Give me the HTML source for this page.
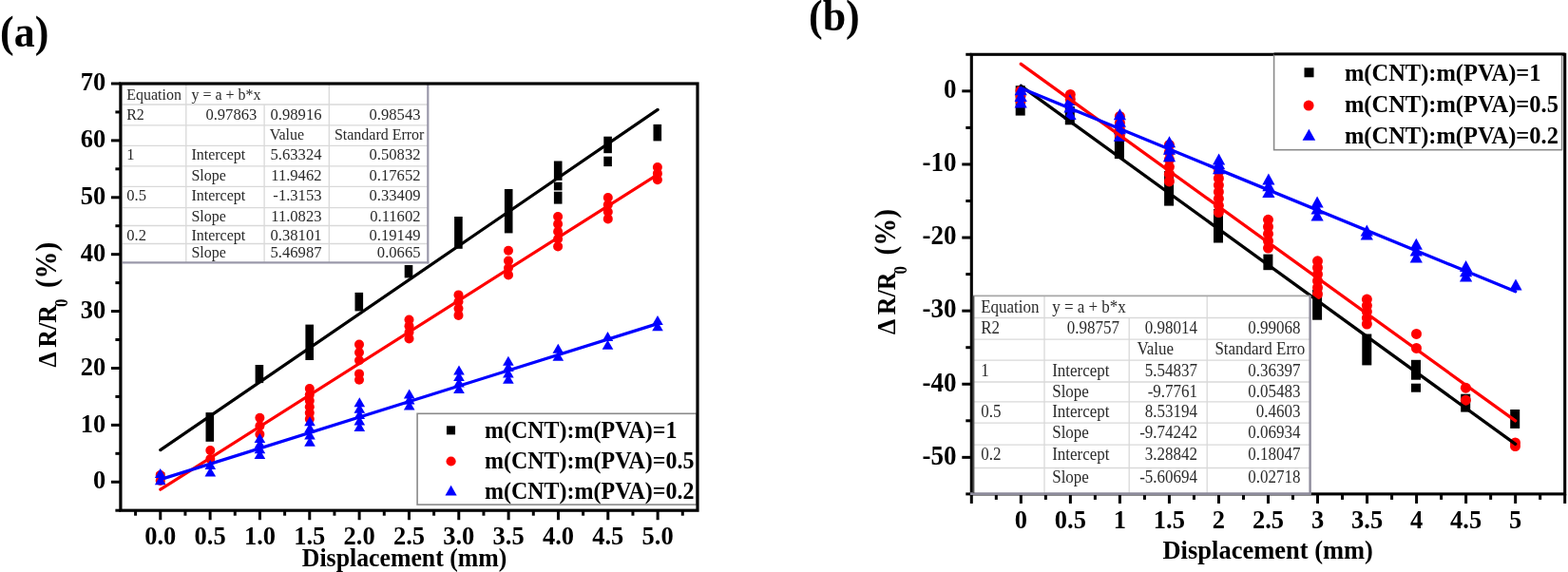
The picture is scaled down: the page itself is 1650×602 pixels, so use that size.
<!DOCTYPE html>
<html><head><meta charset="utf-8"><title>Figure</title>
<style>
html,body{margin:0;padding:0;background:#fff;}
body{width:1650px;height:602px;overflow:hidden;}
svg{display:block;filter:blur(0.3px);}
svg text{font-family:'Liberation Serif', 'Times New Roman', serif;}
</style></head><body>
<svg width="1650" height="602" viewBox="0 0 1650 602">
<rect width="1650" height="602" fill="#fff"/>
<rect x="164.7" y="497" width="8.6" height="13" fill="#000"/>
<rect x="216.5" y="434.1" width="8.6" height="30.7" fill="#000"/>
<rect x="268.6" y="384" width="8.6" height="19.1" fill="#000"/>
<rect x="321.4" y="341.6" width="8.6" height="37.4" fill="#000"/>
<rect x="373.5" y="307.9" width="8.6" height="19.5" fill="#000"/>
<rect x="425.7" y="279" width="8.6" height="13.4" fill="#000"/>
<rect x="478.1" y="228" width="8.6" height="33.8" fill="#000"/>
<rect x="530.9" y="199" width="8.6" height="46.4" fill="#000"/>
<rect x="582.9" y="169.5" width="8.6" height="20.4" fill="#000"/>
<rect x="582.9" y="191.7" width="8.6" height="8.7" fill="#000"/>
<rect x="582.9" y="201.7" width="8.6" height="12.9" fill="#000"/>
<rect x="635.3" y="143.7" width="8.6" height="17.5" fill="#000"/>
<rect x="635.3" y="164.7" width="8.6" height="10.4" fill="#000"/>
<rect x="687.5" y="130.9" width="8.6" height="17.5" fill="#000"/>
<circle cx="168.7" cy="500" r="5" fill="#f00"/>
<circle cx="168.7" cy="506" r="5" fill="#f00"/>
<circle cx="221.3" cy="474" r="5" fill="#f00"/>
<circle cx="221.3" cy="483" r="5" fill="#f00"/>
<circle cx="273.4" cy="439.7" r="5" fill="#f00"/>
<circle cx="273.4" cy="448.35" r="5" fill="#f00"/>
<circle cx="273.4" cy="457" r="5" fill="#f00"/>
<circle cx="325.8" cy="409.1" r="5" fill="#f00"/>
<circle cx="325.8" cy="415.48" r="5" fill="#f00"/>
<circle cx="325.8" cy="421.86" r="5" fill="#f00"/>
<circle cx="325.8" cy="428.24" r="5" fill="#f00"/>
<circle cx="325.8" cy="434.62" r="5" fill="#f00"/>
<circle cx="325.8" cy="441" r="5" fill="#f00"/>
<circle cx="378" cy="362.6" r="5" fill="#f00"/>
<circle cx="378" cy="370.95" r="5" fill="#f00"/>
<circle cx="378" cy="379.3" r="5" fill="#f00"/>
<circle cx="378" cy="393.4" r="5" fill="#f00"/>
<circle cx="378" cy="399.7" r="5" fill="#f00"/>
<circle cx="430.5" cy="336.5" r="5" fill="#f00"/>
<circle cx="430.5" cy="343.13" r="5" fill="#f00"/>
<circle cx="430.5" cy="349.77" r="5" fill="#f00"/>
<circle cx="430.5" cy="356.4" r="5" fill="#f00"/>
<circle cx="482.5" cy="310.4" r="5" fill="#f00"/>
<circle cx="482.5" cy="317.57" r="5" fill="#f00"/>
<circle cx="482.5" cy="324.73" r="5" fill="#f00"/>
<circle cx="482.5" cy="331.9" r="5" fill="#f00"/>
<circle cx="535" cy="263.7" r="5" fill="#f00"/>
<circle cx="535" cy="274.5" r="5" fill="#f00"/>
<circle cx="535" cy="281.95" r="5" fill="#f00"/>
<circle cx="535" cy="289.4" r="5" fill="#f00"/>
<circle cx="587.1" cy="228" r="5" fill="#f00"/>
<circle cx="587.1" cy="235.85" r="5" fill="#f00"/>
<circle cx="587.1" cy="243.7" r="5" fill="#f00"/>
<circle cx="587.1" cy="251.55" r="5" fill="#f00"/>
<circle cx="587.1" cy="259.4" r="5" fill="#f00"/>
<circle cx="639.8" cy="208" r="5" fill="#f00"/>
<circle cx="639.8" cy="215.47" r="5" fill="#f00"/>
<circle cx="639.8" cy="222.93" r="5" fill="#f00"/>
<circle cx="639.8" cy="230.4" r="5" fill="#f00"/>
<circle cx="691.9" cy="176" r="5" fill="#f00"/>
<circle cx="691.9" cy="182.65" r="5" fill="#f00"/>
<circle cx="691.9" cy="189.3" r="5" fill="#f00"/>
<polygon points="168.7,492.9 174.5,502.9 162.9,502.9" fill="#00f"/>
<polygon points="168.7,500.3 174.5,510.3 162.9,510.3" fill="#00f"/>
<polygon points="221.3,484 227.1,494 215.5,494" fill="#00f"/>
<polygon points="221.3,491.4 227.1,501.4 215.5,501.4" fill="#00f"/>
<polygon points="273.4,456 279.2,466 267.6,466" fill="#00f"/>
<polygon points="273.4,461.67 279.2,471.67 267.6,471.67" fill="#00f"/>
<polygon points="273.4,467.33 279.2,477.33 267.6,477.33" fill="#00f"/>
<polygon points="273.4,473 279.2,483 267.6,483" fill="#00f"/>
<polygon points="326,438.2 331.8,448.2 320.2,448.2" fill="#00f"/>
<polygon points="326,445.37 331.8,455.37 320.2,455.37" fill="#00f"/>
<polygon points="326,452.53 331.8,462.53 320.2,462.53" fill="#00f"/>
<polygon points="326,459.7 331.8,469.7 320.2,469.7" fill="#00f"/>
<polygon points="378.3,418.2 384.1,428.2 372.5,428.2" fill="#00f"/>
<polygon points="378.3,424.65 384.1,434.65 372.5,434.65" fill="#00f"/>
<polygon points="378.3,431.1 384.1,441.1 372.5,441.1" fill="#00f"/>
<polygon points="378.3,437.55 384.1,447.55 372.5,447.55" fill="#00f"/>
<polygon points="378.3,444 384.1,454 372.5,454" fill="#00f"/>
<polygon points="430.7,409.4 436.5,419.4 424.9,419.4" fill="#00f"/>
<polygon points="430.7,415.4 436.5,425.4 424.9,425.4" fill="#00f"/>
<polygon points="430.7,421.4 436.5,431.4 424.9,431.4" fill="#00f"/>
<polygon points="483,384.5 488.8,394.5 477.2,394.5" fill="#00f"/>
<polygon points="483,391 488.8,401 477.2,401" fill="#00f"/>
<polygon points="483,397.5 488.8,407.5 477.2,407.5" fill="#00f"/>
<polygon points="483,404 488.8,414 477.2,414" fill="#00f"/>
<polygon points="534.9,374.8 540.7,384.8 529.1,384.8" fill="#00f"/>
<polygon points="534.9,381.1 540.7,391.1 529.1,391.1" fill="#00f"/>
<polygon points="534.9,387.4 540.7,397.4 529.1,397.4" fill="#00f"/>
<polygon points="534.9,393.7 540.7,403.7 529.1,403.7" fill="#00f"/>
<polygon points="587.3,361.8 593.1,371.8 581.5,371.8" fill="#00f"/>
<polygon points="587.3,369.8 593.1,379.8 581.5,379.8" fill="#00f"/>
<polygon points="639.5,348.9 645.3,358.9 633.7,358.9" fill="#00f"/>
<polygon points="639.5,357.8 645.3,367.8 633.7,367.8" fill="#00f"/>
<polygon points="692,332 697.8,342 686.2,342" fill="#00f"/>
<polygon points="692,338.3 697.8,348.3 686.2,348.3" fill="#00f"/>
<line x1="168.77" y1="473.6" x2="692.13" y2="115.4" stroke="#000" stroke-width="3.2" stroke-linecap="round"/>
<line x1="168.77" y1="515.2" x2="692.13" y2="183.6" stroke="#f00" stroke-width="3.2" stroke-linecap="round"/>
<line x1="168.77" y1="504.6" x2="692.13" y2="340.6" stroke="#00f" stroke-width="3.2" stroke-linecap="round"/>
<rect x="128.8" y="88" width="321.5" height="188.3" fill="#fff"/>
<line x1="128.8" y1="110" x2="450.3" y2="110" stroke="#d9d9d9" stroke-width="1.3"/>
<line x1="128.8" y1="131.9" x2="450.3" y2="131.9" stroke="#d9d9d9" stroke-width="1.3"/>
<line x1="128.8" y1="153.3" x2="450.3" y2="153.3" stroke="#d9d9d9" stroke-width="1.3"/>
<line x1="128.8" y1="174.9" x2="450.3" y2="174.9" stroke="#d9d9d9" stroke-width="1.3"/>
<line x1="128.8" y1="196.4" x2="450.3" y2="196.4" stroke="#d9d9d9" stroke-width="1.3"/>
<line x1="128.8" y1="218.6" x2="450.3" y2="218.6" stroke="#d9d9d9" stroke-width="1.3"/>
<line x1="128.8" y1="237.5" x2="450.3" y2="237.5" stroke="#d9d9d9" stroke-width="1.3"/>
<line x1="128.8" y1="256.5" x2="450.3" y2="256.5" stroke="#d9d9d9" stroke-width="1.3"/>
<line x1="195.8" y1="88" x2="195.8" y2="276.3" stroke="#d9d9d9" stroke-width="1.3"/>
<line x1="278.1" y1="110.1" x2="278.1" y2="276.3" stroke="#d9d9d9" stroke-width="1.3"/>
<line x1="346.3" y1="88" x2="346.3" y2="276.3" stroke="#d9d9d9" stroke-width="1.3"/>
<line x1="450.3" y1="88" x2="450.3" y2="277.4" stroke="#9a98aa" stroke-width="2.2"/>
<line x1="128.8" y1="276.3" x2="451.4" y2="276.3" stroke="#9a98aa" stroke-width="2.2"/>
<g font-size="16" fill="#2a2a2a">
<text transform="translate(133.2,104.8) scale(1,1.06)">Equation</text>
<text transform="translate(201.4,104.8) scale(1,1.06)">y = a + b*x</text>
<text transform="translate(133.2,125.5) scale(1,1.06)">R2</text>
<text transform="translate(270.3,125.5) scale(1,1.06)" text-anchor="end" font-size="16.6">0.97863</text>
<text transform="translate(338.5,125.5) scale(1,1.06)" text-anchor="end" font-size="16.6">0.98916</text>
<text transform="translate(442.5,125.5) scale(1,1.06)" text-anchor="end" font-size="16.6">0.98543</text>
<text transform="translate(283.7,146.6) scale(1,1.06)">Value</text>
<text transform="translate(351.9,146.6) scale(1,1.06)">Standard Error</text>
<text transform="translate(133.2,168.4) scale(1,1.06)" font-size="16.6">1</text>
<text transform="translate(201.4,168.4) scale(1,1.06)">Intercept</text>
<text transform="translate(338.5,168.4) scale(1,1.06)" text-anchor="end" font-size="16.6">5.63324</text>
<text transform="translate(442.5,168.4) scale(1,1.06)" text-anchor="end" font-size="16.6">0.50832</text>
<text transform="translate(201.4,190) scale(1,1.06)">Slope</text>
<text transform="translate(338.5,190) scale(1,1.06)" text-anchor="end" font-size="16.6">11.9462</text>
<text transform="translate(442.5,190) scale(1,1.06)" text-anchor="end" font-size="16.6">0.17652</text>
<text transform="translate(133.2,210.5) scale(1,1.06)" font-size="16.6">0.5</text>
<text transform="translate(201.4,210.5) scale(1,1.06)">Intercept</text>
<text transform="translate(338.5,210.5) scale(1,1.06)" text-anchor="end" font-size="16.6">-1.3153</text>
<text transform="translate(442.5,210.5) scale(1,1.06)" text-anchor="end" font-size="16.6">0.33409</text>
<text transform="translate(201.4,233.2) scale(1,1.06)">Slope</text>
<text transform="translate(338.5,233.2) scale(1,1.06)" text-anchor="end" font-size="16.6">11.0823</text>
<text transform="translate(442.5,233.2) scale(1,1.06)" text-anchor="end" font-size="16.6">0.11602</text>
<text transform="translate(133.2,252.6) scale(1,1.06)" font-size="16.6">0.2</text>
<text transform="translate(201.4,252.6) scale(1,1.06)">Intercept</text>
<text transform="translate(338.5,252.6) scale(1,1.06)" text-anchor="end" font-size="16.6">0.38101</text>
<text transform="translate(442.5,252.6) scale(1,1.06)" text-anchor="end" font-size="16.6">0.19149</text>
<text transform="translate(201.4,271) scale(1,1.06)">Slope</text>
<text transform="translate(338.5,271) scale(1,1.06)" text-anchor="end" font-size="16.6">5.46987</text>
<text transform="translate(442.5,271) scale(1,1.06)" text-anchor="end" font-size="16.6">0.0665</text>
</g>
<rect x="439.1" y="435.3" width="294" height="95.8" fill="#fff" stroke="#8a8a8a" stroke-width="1.6"/>
<rect x="469.95" y="448.3" width="9.1" height="9.1" fill="#000"/>
<circle cx="474.6" cy="485.5" r="5.1" fill="#f00"/>
<polygon points="474.6,510.8 480.7,521.6 468.5,521.6" fill="#00f"/>
<text transform="translate(510,461.4) scale(1,1.06)" font-size="24" font-weight="bold">m(CNT):m(PVA)=1</text>
<text transform="translate(510,493.3) scale(1,1.06)" font-size="24" font-weight="bold">m(CNT):m(PVA)=0.5</text>
<text transform="translate(510,525.2) scale(1,1.06)" font-size="24" font-weight="bold">m(CNT):m(PVA)=0.2</text>
<rect x="126.9" y="88" width="607.1" height="449.2" fill="none" stroke="#000" stroke-width="3.2"/>
<line x1="121.4" y1="537.2" x2="126.9" y2="537.2" stroke="#000" stroke-width="3"/>
<line x1="116.9" y1="507.25" x2="126.9" y2="507.25" stroke="#000" stroke-width="3"/>
<text transform="translate(111.2,514.45) scale(1,1.06)" font-size="26.5" font-weight="bold" text-anchor="end">0</text>
<line x1="121.4" y1="477.31" x2="126.9" y2="477.31" stroke="#000" stroke-width="3"/>
<line x1="116.9" y1="447.36" x2="126.9" y2="447.36" stroke="#000" stroke-width="3"/>
<text transform="translate(111.2,454.56) scale(1,1.06)" font-size="26.5" font-weight="bold" text-anchor="end">10</text>
<line x1="121.4" y1="417.41" x2="126.9" y2="417.41" stroke="#000" stroke-width="3"/>
<line x1="116.9" y1="387.47" x2="126.9" y2="387.47" stroke="#000" stroke-width="3"/>
<text transform="translate(111.2,394.67) scale(1,1.06)" font-size="26.5" font-weight="bold" text-anchor="end">20</text>
<line x1="121.4" y1="357.52" x2="126.9" y2="357.52" stroke="#000" stroke-width="3"/>
<line x1="116.9" y1="327.57" x2="126.9" y2="327.57" stroke="#000" stroke-width="3"/>
<text transform="translate(111.2,334.77) scale(1,1.06)" font-size="26.5" font-weight="bold" text-anchor="end">30</text>
<line x1="121.4" y1="297.63" x2="126.9" y2="297.63" stroke="#000" stroke-width="3"/>
<line x1="116.9" y1="267.68" x2="126.9" y2="267.68" stroke="#000" stroke-width="3"/>
<text transform="translate(111.2,274.88) scale(1,1.06)" font-size="26.5" font-weight="bold" text-anchor="end">40</text>
<line x1="121.4" y1="237.73" x2="126.9" y2="237.73" stroke="#000" stroke-width="3"/>
<line x1="116.9" y1="207.79" x2="126.9" y2="207.79" stroke="#000" stroke-width="3"/>
<text transform="translate(111.2,214.99) scale(1,1.06)" font-size="26.5" font-weight="bold" text-anchor="end">50</text>
<line x1="121.4" y1="177.84" x2="126.9" y2="177.84" stroke="#000" stroke-width="3"/>
<line x1="116.9" y1="147.89" x2="126.9" y2="147.89" stroke="#000" stroke-width="3"/>
<text transform="translate(111.2,155.09) scale(1,1.06)" font-size="26.5" font-weight="bold" text-anchor="end">60</text>
<line x1="121.4" y1="117.95" x2="126.9" y2="117.95" stroke="#000" stroke-width="3"/>
<line x1="116.9" y1="88" x2="126.9" y2="88" stroke="#000" stroke-width="3"/>
<text transform="translate(111.2,95.2) scale(1,1.06)" font-size="26.5" font-weight="bold" text-anchor="end">70</text>
<line x1="142.6" y1="537.2" x2="142.6" y2="542.7" stroke="#000" stroke-width="3"/>
<line x1="168.77" y1="537.2" x2="168.77" y2="547.2" stroke="#000" stroke-width="3"/>
<text transform="translate(168.77,572.5) scale(1,1.06)" font-size="26.5" font-weight="bold" text-anchor="middle">0.0</text>
<line x1="194.94" y1="537.2" x2="194.94" y2="542.7" stroke="#000" stroke-width="3"/>
<line x1="221.11" y1="537.2" x2="221.11" y2="547.2" stroke="#000" stroke-width="3"/>
<text transform="translate(221.11,572.5) scale(1,1.06)" font-size="26.5" font-weight="bold" text-anchor="middle">0.5</text>
<line x1="247.27" y1="537.2" x2="247.27" y2="542.7" stroke="#000" stroke-width="3"/>
<line x1="273.44" y1="537.2" x2="273.44" y2="547.2" stroke="#000" stroke-width="3"/>
<text transform="translate(273.44,572.5) scale(1,1.06)" font-size="26.5" font-weight="bold" text-anchor="middle">1.0</text>
<line x1="299.61" y1="537.2" x2="299.61" y2="542.7" stroke="#000" stroke-width="3"/>
<line x1="325.78" y1="537.2" x2="325.78" y2="547.2" stroke="#000" stroke-width="3"/>
<text transform="translate(325.78,572.5) scale(1,1.06)" font-size="26.5" font-weight="bold" text-anchor="middle">1.5</text>
<line x1="351.95" y1="537.2" x2="351.95" y2="542.7" stroke="#000" stroke-width="3"/>
<line x1="378.11" y1="537.2" x2="378.11" y2="547.2" stroke="#000" stroke-width="3"/>
<text transform="translate(378.11,572.5) scale(1,1.06)" font-size="26.5" font-weight="bold" text-anchor="middle">2.0</text>
<line x1="404.28" y1="537.2" x2="404.28" y2="542.7" stroke="#000" stroke-width="3"/>
<line x1="430.45" y1="537.2" x2="430.45" y2="547.2" stroke="#000" stroke-width="3"/>
<text transform="translate(430.45,572.5) scale(1,1.06)" font-size="26.5" font-weight="bold" text-anchor="middle">2.5</text>
<line x1="456.62" y1="537.2" x2="456.62" y2="542.7" stroke="#000" stroke-width="3"/>
<line x1="482.79" y1="537.2" x2="482.79" y2="547.2" stroke="#000" stroke-width="3"/>
<text transform="translate(482.79,572.5) scale(1,1.06)" font-size="26.5" font-weight="bold" text-anchor="middle">3.0</text>
<line x1="508.95" y1="537.2" x2="508.95" y2="542.7" stroke="#000" stroke-width="3"/>
<line x1="535.12" y1="537.2" x2="535.12" y2="547.2" stroke="#000" stroke-width="3"/>
<text transform="translate(535.12,572.5) scale(1,1.06)" font-size="26.5" font-weight="bold" text-anchor="middle">3.5</text>
<line x1="561.29" y1="537.2" x2="561.29" y2="542.7" stroke="#000" stroke-width="3"/>
<line x1="587.46" y1="537.2" x2="587.46" y2="547.2" stroke="#000" stroke-width="3"/>
<text transform="translate(587.46,572.5) scale(1,1.06)" font-size="26.5" font-weight="bold" text-anchor="middle">4.0</text>
<line x1="613.63" y1="537.2" x2="613.63" y2="542.7" stroke="#000" stroke-width="3"/>
<line x1="639.79" y1="537.2" x2="639.79" y2="547.2" stroke="#000" stroke-width="3"/>
<text transform="translate(639.79,572.5) scale(1,1.06)" font-size="26.5" font-weight="bold" text-anchor="middle">4.5</text>
<line x1="665.96" y1="537.2" x2="665.96" y2="542.7" stroke="#000" stroke-width="3"/>
<line x1="692.13" y1="537.2" x2="692.13" y2="547.2" stroke="#000" stroke-width="3"/>
<text transform="translate(692.13,572.5) scale(1,1.06)" font-size="26.5" font-weight="bold" text-anchor="middle">5.0</text>
<line x1="718.3" y1="537.2" x2="718.3" y2="542.7" stroke="#000" stroke-width="3"/>
<text transform="translate(425.6,595.8) scale(1,1.06)" font-size="25.8" font-weight="bold" text-anchor="middle">Displacement (mm)</text>
<text transform="translate(59.1,386.6) rotate(-90) scale(1,1.06)" font-size="26" font-weight="bold">&#916;<tspan dx="4.5">R/R</tspan><tspan font-size="17" dy="11" dx="-2">0</tspan><tspan font-size="29" dy="-11" dx="11.5">(%)</tspan></text>
<text transform="translate(0,49) scale(1,1.06)" font-size="44" font-weight="bold">(a)</text>
<rect x="1068.7" y="90.2" width="10" height="31.4" fill="#000"/>
<rect x="1120.8" y="112" width="10" height="19.3" fill="#000"/>
<rect x="1172.9" y="140" width="10" height="27.1" fill="#000"/>
<rect x="1225.1" y="180" width="10" height="36.6" fill="#000"/>
<rect x="1277" y="220" width="10" height="35.5" fill="#000"/>
<rect x="1329.4" y="267.6" width="10" height="16.6" fill="#000"/>
<rect x="1381.1" y="305" width="10" height="31.7" fill="#000"/>
<rect x="1433.3" y="351.5" width="10" height="32.9" fill="#000"/>
<rect x="1485" y="378.8" width="10" height="20.9" fill="#000"/>
<rect x="1485" y="403.7" width="10" height="9" fill="#000"/>
<rect x="1537.2" y="414.7" width="10" height="18.9" fill="#000"/>
<rect x="1589.2" y="431" width="10" height="19.9" fill="#000"/>
<circle cx="1074" cy="95.5" r="5.5" fill="#f00"/>
<circle cx="1074" cy="101" r="5.5" fill="#f00"/>
<circle cx="1074" cy="106.5" r="5.5" fill="#f00"/>
<circle cx="1126.3" cy="99.5" r="5.5" fill="#f00"/>
<circle cx="1126.3" cy="104.5" r="5.5" fill="#f00"/>
<circle cx="1178.4" cy="122.4" r="5.5" fill="#f00"/>
<circle cx="1178.4" cy="129.17" r="5.5" fill="#f00"/>
<circle cx="1178.4" cy="135.93" r="5.5" fill="#f00"/>
<circle cx="1178.4" cy="142.7" r="5.5" fill="#f00"/>
<circle cx="1230.4" cy="152.5" r="5.5" fill="#f00"/>
<circle cx="1230.4" cy="160.18" r="5.5" fill="#f00"/>
<circle cx="1230.4" cy="167.86" r="5.5" fill="#f00"/>
<circle cx="1230.4" cy="175.54" r="5.5" fill="#f00"/>
<circle cx="1230.4" cy="183.22" r="5.5" fill="#f00"/>
<circle cx="1230.4" cy="190.9" r="5.5" fill="#f00"/>
<circle cx="1282.4" cy="180.5" r="5.5" fill="#f00"/>
<circle cx="1282.4" cy="187.67" r="5.5" fill="#f00"/>
<circle cx="1282.4" cy="194.83" r="5.5" fill="#f00"/>
<circle cx="1282.4" cy="202" r="5.5" fill="#f00"/>
<circle cx="1282.4" cy="209.17" r="5.5" fill="#f00"/>
<circle cx="1282.4" cy="216.33" r="5.5" fill="#f00"/>
<circle cx="1282.4" cy="223.5" r="5.5" fill="#f00"/>
<circle cx="1334.5" cy="231.3" r="5.5" fill="#f00"/>
<circle cx="1334.5" cy="238.75" r="5.5" fill="#f00"/>
<circle cx="1334.5" cy="246.2" r="5.5" fill="#f00"/>
<circle cx="1334.5" cy="253.65" r="5.5" fill="#f00"/>
<circle cx="1334.5" cy="261.1" r="5.5" fill="#f00"/>
<circle cx="1386.5" cy="274.8" r="5.5" fill="#f00"/>
<circle cx="1386.5" cy="281.76" r="5.5" fill="#f00"/>
<circle cx="1386.5" cy="288.72" r="5.5" fill="#f00"/>
<circle cx="1386.5" cy="295.68" r="5.5" fill="#f00"/>
<circle cx="1386.5" cy="302.64" r="5.5" fill="#f00"/>
<circle cx="1386.5" cy="309.6" r="5.5" fill="#f00"/>
<circle cx="1438.4" cy="315.1" r="5.5" fill="#f00"/>
<circle cx="1438.4" cy="321.58" r="5.5" fill="#f00"/>
<circle cx="1438.4" cy="328.05" r="5.5" fill="#f00"/>
<circle cx="1438.4" cy="334.52" r="5.5" fill="#f00"/>
<circle cx="1438.4" cy="341" r="5.5" fill="#f00"/>
<circle cx="1490.5" cy="351.4" r="5.5" fill="#f00"/>
<circle cx="1490.5" cy="366.4" r="5.5" fill="#f00"/>
<circle cx="1542.4" cy="408.2" r="5.5" fill="#f00"/>
<circle cx="1542.4" cy="421.2" r="5.5" fill="#f00"/>
<circle cx="1594.5" cy="466" r="5.5" fill="#f00"/>
<circle cx="1594.5" cy="469.6" r="5.5" fill="#f00"/>
<polygon points="1074.2,88.3 1080.8,100.3 1067.6,100.3" fill="#00f"/>
<polygon points="1074.2,94.9 1080.8,106.9 1067.6,106.9" fill="#00f"/>
<polygon points="1074.2,101.5 1080.8,113.5 1067.6,113.5" fill="#00f"/>
<polygon points="1126,98.9 1132.6,110.9 1119.4,110.9" fill="#00f"/>
<polygon points="1126,106.4 1132.6,118.4 1119.4,118.4" fill="#00f"/>
<polygon points="1126,113.9 1132.6,125.9 1119.4,125.9" fill="#00f"/>
<polygon points="1178.4,114.2 1185,126.2 1171.8,126.2" fill="#00f"/>
<polygon points="1178.4,121.7 1185,133.7 1171.8,133.7" fill="#00f"/>
<polygon points="1178.4,129.2 1185,141.2 1171.8,141.2" fill="#00f"/>
<polygon points="1178.4,136.7 1185,148.7 1171.8,148.7" fill="#00f"/>
<polygon points="1230.5,143.2 1237.1,155.2 1223.9,155.2" fill="#00f"/>
<polygon points="1230.5,150.7 1237.1,162.7 1223.9,162.7" fill="#00f"/>
<polygon points="1230.5,158.2 1237.1,170.2 1223.9,170.2" fill="#00f"/>
<polygon points="1282.6,161.4 1289.2,173.4 1276,173.4" fill="#00f"/>
<polygon points="1282.6,166.35 1289.2,178.35 1276,178.35" fill="#00f"/>
<polygon points="1282.6,171.3 1289.2,183.3 1276,183.3" fill="#00f"/>
<polygon points="1334.9,182.6 1341.5,194.6 1328.3,194.6" fill="#00f"/>
<polygon points="1334.9,189.25 1341.5,201.25 1328.3,201.25" fill="#00f"/>
<polygon points="1334.9,195.9 1341.5,207.9 1328.3,207.9" fill="#00f"/>
<polygon points="1386.1,206.5 1392.7,218.5 1379.5,218.5" fill="#00f"/>
<polygon points="1386.1,213.55 1392.7,225.55 1379.5,225.55" fill="#00f"/>
<polygon points="1386.1,220.6 1392.7,232.6 1379.5,232.6" fill="#00f"/>
<polygon points="1438.3,236.6 1444.9,248.6 1431.7,248.6" fill="#00f"/>
<polygon points="1438.3,240.4 1444.9,252.4 1431.7,252.4" fill="#00f"/>
<polygon points="1490.3,250.7 1496.9,262.7 1483.7,262.7" fill="#00f"/>
<polygon points="1490.3,257.6 1496.9,269.6 1483.7,269.6" fill="#00f"/>
<polygon points="1490.3,264.5 1496.9,276.5 1483.7,276.5" fill="#00f"/>
<polygon points="1542.6,274 1549.2,286 1536,286" fill="#00f"/>
<polygon points="1542.6,279.2 1549.2,291.2 1536,291.2" fill="#00f"/>
<polygon points="1542.6,284.4 1549.2,296.4 1536,296.4" fill="#00f"/>
<polygon points="1595,293.6 1601.6,305.6 1588.4,305.6" fill="#00f"/>
<line x1="1074.33" y1="90.3" x2="1594.67" y2="467.4" stroke="#000" stroke-width="3.3" stroke-linecap="round"/>
<line x1="1074.33" y1="67.3" x2="1594.67" y2="442.9" stroke="#f00" stroke-width="3.3" stroke-linecap="round"/>
<line x1="1074.33" y1="92.8" x2="1594.67" y2="306.8" stroke="#00f" stroke-width="3.3" stroke-linecap="round"/>
<rect x="1022.3" y="57.3" width="624.4" height="462.6" fill="none" stroke="#000" stroke-width="3.1"/>
<line x1="1016.3" y1="519.9" x2="1022.3" y2="519.9" stroke="#000" stroke-width="3"/>
<line x1="1012.3" y1="481.35" x2="1022.3" y2="481.35" stroke="#000" stroke-width="3"/>
<text transform="translate(1006.6,488.65) scale(1,1.06)" font-size="27" font-weight="bold" text-anchor="end">-50</text>
<line x1="1016.3" y1="442.8" x2="1022.3" y2="442.8" stroke="#000" stroke-width="3"/>
<line x1="1012.3" y1="404.25" x2="1022.3" y2="404.25" stroke="#000" stroke-width="3"/>
<text transform="translate(1006.6,411.55) scale(1,1.06)" font-size="27" font-weight="bold" text-anchor="end">-40</text>
<line x1="1016.3" y1="365.7" x2="1022.3" y2="365.7" stroke="#000" stroke-width="3"/>
<line x1="1012.3" y1="327.15" x2="1022.3" y2="327.15" stroke="#000" stroke-width="3"/>
<text transform="translate(1006.6,334.45) scale(1,1.06)" font-size="27" font-weight="bold" text-anchor="end">-30</text>
<line x1="1016.3" y1="288.6" x2="1022.3" y2="288.6" stroke="#000" stroke-width="3"/>
<line x1="1012.3" y1="250.05" x2="1022.3" y2="250.05" stroke="#000" stroke-width="3"/>
<text transform="translate(1006.6,257.35) scale(1,1.06)" font-size="27" font-weight="bold" text-anchor="end">-20</text>
<line x1="1016.3" y1="211.5" x2="1022.3" y2="211.5" stroke="#000" stroke-width="3"/>
<line x1="1012.3" y1="172.95" x2="1022.3" y2="172.95" stroke="#000" stroke-width="3"/>
<text transform="translate(1006.6,180.25) scale(1,1.06)" font-size="27" font-weight="bold" text-anchor="end">-10</text>
<line x1="1016.3" y1="134.4" x2="1022.3" y2="134.4" stroke="#000" stroke-width="3"/>
<line x1="1012.3" y1="95.85" x2="1022.3" y2="95.85" stroke="#000" stroke-width="3"/>
<text transform="translate(1006.6,103.15) scale(1,1.06)" font-size="27" font-weight="bold" text-anchor="end">0</text>
<line x1="1016.3" y1="57.3" x2="1022.3" y2="57.3" stroke="#000" stroke-width="3"/>
<line x1="1022.3" y1="519.9" x2="1022.3" y2="529.9" stroke="#000" stroke-width="3"/>
<line x1="1048.32" y1="519.9" x2="1048.32" y2="525.9" stroke="#000" stroke-width="3"/>
<line x1="1074.33" y1="519.9" x2="1074.33" y2="529.9" stroke="#000" stroke-width="3"/>
<text transform="translate(1074.33,556.2) scale(1,1.06)" font-size="26.5" font-weight="bold" text-anchor="middle">0</text>
<line x1="1100.35" y1="519.9" x2="1100.35" y2="525.9" stroke="#000" stroke-width="3"/>
<line x1="1126.37" y1="519.9" x2="1126.37" y2="529.9" stroke="#000" stroke-width="3"/>
<text transform="translate(1126.37,556.2) scale(1,1.06)" font-size="26.5" font-weight="bold" text-anchor="middle">0.5</text>
<line x1="1152.38" y1="519.9" x2="1152.38" y2="525.9" stroke="#000" stroke-width="3"/>
<line x1="1178.4" y1="519.9" x2="1178.4" y2="529.9" stroke="#000" stroke-width="3"/>
<text transform="translate(1178.4,556.2) scale(1,1.06)" font-size="26.5" font-weight="bold" text-anchor="middle">1</text>
<line x1="1204.42" y1="519.9" x2="1204.42" y2="525.9" stroke="#000" stroke-width="3"/>
<line x1="1230.43" y1="519.9" x2="1230.43" y2="529.9" stroke="#000" stroke-width="3"/>
<text transform="translate(1230.43,556.2) scale(1,1.06)" font-size="26.5" font-weight="bold" text-anchor="middle">1.5</text>
<line x1="1256.45" y1="519.9" x2="1256.45" y2="525.9" stroke="#000" stroke-width="3"/>
<line x1="1282.47" y1="519.9" x2="1282.47" y2="529.9" stroke="#000" stroke-width="3"/>
<text transform="translate(1282.47,556.2) scale(1,1.06)" font-size="26.5" font-weight="bold" text-anchor="middle">2</text>
<line x1="1308.48" y1="519.9" x2="1308.48" y2="525.9" stroke="#000" stroke-width="3"/>
<line x1="1334.5" y1="519.9" x2="1334.5" y2="529.9" stroke="#000" stroke-width="3"/>
<text transform="translate(1334.5,556.2) scale(1,1.06)" font-size="26.5" font-weight="bold" text-anchor="middle">2.5</text>
<line x1="1360.52" y1="519.9" x2="1360.52" y2="525.9" stroke="#000" stroke-width="3"/>
<line x1="1386.53" y1="519.9" x2="1386.53" y2="529.9" stroke="#000" stroke-width="3"/>
<text transform="translate(1386.53,556.2) scale(1,1.06)" font-size="26.5" font-weight="bold" text-anchor="middle">3</text>
<line x1="1412.55" y1="519.9" x2="1412.55" y2="525.9" stroke="#000" stroke-width="3"/>
<line x1="1438.57" y1="519.9" x2="1438.57" y2="529.9" stroke="#000" stroke-width="3"/>
<text transform="translate(1438.57,556.2) scale(1,1.06)" font-size="26.5" font-weight="bold" text-anchor="middle">3.5</text>
<line x1="1464.58" y1="519.9" x2="1464.58" y2="525.9" stroke="#000" stroke-width="3"/>
<line x1="1490.6" y1="519.9" x2="1490.6" y2="529.9" stroke="#000" stroke-width="3"/>
<text transform="translate(1490.6,556.2) scale(1,1.06)" font-size="26.5" font-weight="bold" text-anchor="middle">4</text>
<line x1="1516.62" y1="519.9" x2="1516.62" y2="525.9" stroke="#000" stroke-width="3"/>
<line x1="1542.63" y1="519.9" x2="1542.63" y2="529.9" stroke="#000" stroke-width="3"/>
<text transform="translate(1542.63,556.2) scale(1,1.06)" font-size="26.5" font-weight="bold" text-anchor="middle">4.5</text>
<line x1="1568.65" y1="519.9" x2="1568.65" y2="525.9" stroke="#000" stroke-width="3"/>
<line x1="1594.67" y1="519.9" x2="1594.67" y2="529.9" stroke="#000" stroke-width="3"/>
<text transform="translate(1594.67,556.2) scale(1,1.06)" font-size="26.5" font-weight="bold" text-anchor="middle">5</text>
<line x1="1620.68" y1="519.9" x2="1620.68" y2="525.9" stroke="#000" stroke-width="3"/>
<line x1="1646.7" y1="519.9" x2="1646.7" y2="529.9" stroke="#000" stroke-width="3"/>
<rect x="1024" y="311.4" width="354.6" height="208.2" fill="#fff"/>
<line x1="1024" y1="334.5" x2="1378.6" y2="334.5" stroke="#d9d9d9" stroke-width="1.3"/>
<line x1="1024" y1="357.1" x2="1378.6" y2="357.1" stroke="#d9d9d9" stroke-width="1.3"/>
<line x1="1024" y1="379.1" x2="1378.6" y2="379.1" stroke="#d9d9d9" stroke-width="1.3"/>
<line x1="1024" y1="402" x2="1378.6" y2="402" stroke="#d9d9d9" stroke-width="1.3"/>
<line x1="1024" y1="422.8" x2="1378.6" y2="422.8" stroke="#d9d9d9" stroke-width="1.3"/>
<line x1="1024" y1="445.1" x2="1378.6" y2="445.1" stroke="#d9d9d9" stroke-width="1.3"/>
<line x1="1024" y1="468.2" x2="1378.6" y2="468.2" stroke="#d9d9d9" stroke-width="1.3"/>
<line x1="1024" y1="492.5" x2="1378.6" y2="492.5" stroke="#d9d9d9" stroke-width="1.3"/>
<line x1="1099" y1="311.4" x2="1099" y2="519.6" stroke="#d9d9d9" stroke-width="1.3"/>
<line x1="1188.2" y1="334.5" x2="1188.2" y2="519.6" stroke="#d9d9d9" stroke-width="1.3"/>
<line x1="1270.2" y1="311.4" x2="1270.2" y2="519.6" stroke="#d9d9d9" stroke-width="1.3"/>
<line x1="1024" y1="311.4" x2="1379" y2="311.4" stroke="#a8a8a8" stroke-width="1.8"/>
<line x1="1378.6" y1="311" x2="1378.6" y2="520.8" stroke="#8e8c9c" stroke-width="2.4"/>
<line x1="1021" y1="519.6" x2="1379.6" y2="519.6" stroke="#8e8c9c" stroke-width="2.6"/>
<line x1="1024.6" y1="311.5" x2="1024.6" y2="519" stroke="#555" stroke-width="1.6"/>
<g font-size="17" fill="#2a2a2a">
<text transform="translate(1032.2,329.1) scale(1,1.06)">Equation</text>
<text transform="translate(1107.2,329.1) scale(1,1.06)">y = a + b*x</text>
<text transform="translate(1032.2,351.2) scale(1,1.06)">R2</text>
<text transform="translate(1178,351.2) scale(1,1.06)" text-anchor="end">0.98757</text>
<text transform="translate(1260,351.2) scale(1,1.06)" text-anchor="end">0.98014</text>
<text transform="translate(1368.4,351.2) scale(1,1.06)" text-anchor="end">0.99068</text>
<text transform="translate(1196.4,373.3) scale(1,1.06)">Value</text>
<text transform="translate(1278.4,373.3) scale(1,1.06)">Standard Erro</text>
<text transform="translate(1032.2,396.1) scale(1,1.06)">1</text>
<text transform="translate(1107.2,396.1) scale(1,1.06)">Intercept</text>
<text transform="translate(1260,396.1) scale(1,1.06)" text-anchor="end">5.54837</text>
<text transform="translate(1368.4,396.1) scale(1,1.06)" text-anchor="end">0.36397</text>
<text transform="translate(1107.2,418.4) scale(1,1.06)">Slope</text>
<text transform="translate(1260,418.4) scale(1,1.06)" text-anchor="end">-9.7761</text>
<text transform="translate(1368.4,418.4) scale(1,1.06)" text-anchor="end">0.05483</text>
<text transform="translate(1032.2,438.8) scale(1,1.06)">0.5</text>
<text transform="translate(1107.2,438.8) scale(1,1.06)">Intercept</text>
<text transform="translate(1260,438.8) scale(1,1.06)" text-anchor="end">8.53194</text>
<text transform="translate(1368.4,438.8) scale(1,1.06)" text-anchor="end">0.4603</text>
<text transform="translate(1107.2,461.4) scale(1,1.06)">Slope</text>
<text transform="translate(1260,461.4) scale(1,1.06)" text-anchor="end">-9.74242</text>
<text transform="translate(1368.4,461.4) scale(1,1.06)" text-anchor="end">0.06934</text>
<text transform="translate(1032.2,483.5) scale(1,1.06)">0.2</text>
<text transform="translate(1107.2,483.5) scale(1,1.06)">Intercept</text>
<text transform="translate(1260,483.5) scale(1,1.06)" text-anchor="end">3.28842</text>
<text transform="translate(1368.4,483.5) scale(1,1.06)" text-anchor="end">0.18047</text>
<text transform="translate(1107.2,507.9) scale(1,1.06)">Slope</text>
<text transform="translate(1260,507.9) scale(1,1.06)" text-anchor="end">-5.60694</text>
<text transform="translate(1368.4,507.9) scale(1,1.06)" text-anchor="end">0.02718</text>
</g>
<rect x="1340.6" y="57.6" width="303" height="100.1" fill="#fff" stroke="#8a8a8a" stroke-width="1.6"/>
<line x1="1340.6" y1="56.9" x2="1646.7" y2="56.9" stroke="#000" stroke-width="2.6"/>
<rect x="1372.5" y="71.3" width="10" height="10" fill="#000"/>
<circle cx="1377.1" cy="111.1" r="5.5" fill="#f00"/>
<polygon points="1377.4,135.7 1384.2,147.7 1370.6,147.7" fill="#00f"/>
<text transform="translate(1414.9,85.4) scale(1,1.06)" font-size="24.5" font-weight="bold">m(CNT):m(PVA)=1</text>
<text transform="translate(1414.9,118.3) scale(1,1.06)" font-size="24.5" font-weight="bold">m(CNT):m(PVA)=0.5</text>
<text transform="translate(1414.9,151.2) scale(1,1.06)" font-size="24.5" font-weight="bold">m(CNT):m(PVA)=0.2</text>
<text transform="translate(1334.2,588) scale(1,1.06)" font-size="26.5" font-weight="bold" text-anchor="middle">Displacement (mm)</text>
<text transform="translate(942,352) rotate(-90) scale(1,1.06)" font-size="26" font-weight="bold">&#916;<tspan dx="4.5">R/R</tspan><tspan font-size="17" dy="11" dx="-2">0</tspan><tspan font-size="29" dy="-11" dx="11.5">(%)</tspan></text>
<text transform="translate(851,31.6) scale(1,1.06)" font-size="44" font-weight="bold">(b)</text>
</svg>
</body></html>
